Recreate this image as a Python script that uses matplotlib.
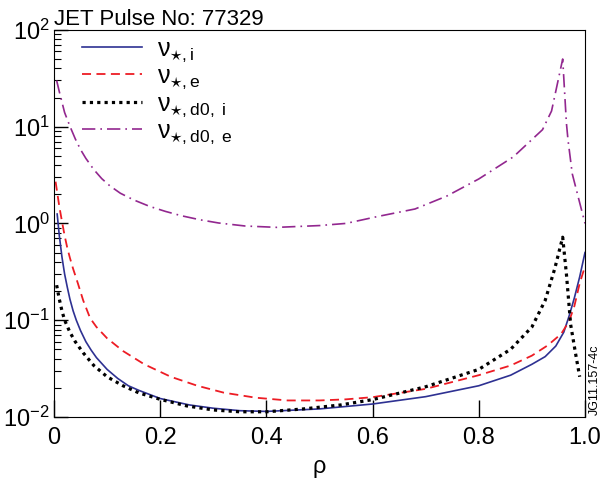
import matplotlib
matplotlib.use("Agg")
import matplotlib.pyplot as plt
import numpy as np

plt.rcParams['font.family'] = ['Liberation Sans', 'DejaVu Sans']
plt.rcParams['mathtext.fontset'] = 'custom'
plt.rcParams['mathtext.rm'] = 'Liberation Sans'
plt.rcParams['mathtext.it'] = 'Liberation Sans:italic'

# data
rho_i = [0.006, 0.01, 0.015, 0.02, 0.025, 0.03, 0.036, 0.042, 0.05, 0.06, 0.07, 0.08, 0.1, 0.12,
         0.14, 0.16, 0.2, 0.255, 0.3, 0.35, 0.4, 0.5, 0.6, 0.7, 0.8, 0.86, 0.9, 0.925, 0.945,
         0.96, 0.97, 0.98, 0.99, 1.0]
nu_i = [1.25, 0.75, 0.45, 0.3, 0.22, 0.165, 0.125, 0.1, 0.078, 0.06, 0.049, 0.041, 0.031, 0.025,
        0.021, 0.0188, 0.0155, 0.0133, 0.0123, 0.0116, 0.0114, 0.0121, 0.0136, 0.0162, 0.021, 0.027,
        0.035, 0.042, 0.054, 0.075, 0.11, 0.17, 0.28, 0.5]

rho_e = [0.003, 0.01, 0.015, 0.02, 0.025, 0.03, 0.036, 0.045, 0.055, 0.068, 0.08, 0.1, 0.13, 0.17,
         0.22, 0.27, 0.32, 0.38, 0.44, 0.5, 0.55, 0.6, 0.7, 0.8, 0.86, 0.9, 0.93, 0.955, 0.97,
         0.98, 0.99, 1.0]
nu_e = [2.7, 1.5, 1.05, 0.75, 0.56, 0.44, 0.34, 0.24, 0.16, 0.105, 0.085, 0.065, 0.048, 0.035,
        0.026, 0.021, 0.0178, 0.0158, 0.0148, 0.0148, 0.0152, 0.016, 0.0195, 0.027, 0.034, 0.043,
        0.055, 0.072, 0.097, 0.14, 0.24, 0.36]

rho_d0i = [0.005, 0.01, 0.015, 0.02, 0.03, 0.04, 0.055, 0.075, 0.1, 0.13, 0.16, 0.2, 0.25, 0.3,
           0.35, 0.4, 0.47, 0.54, 0.6, 0.7, 0.8, 0.86, 0.9, 0.925, 0.943, 0.958, 0.965, 0.973,
           0.982, 0.99]
nu_d0i = [0.23, 0.165, 0.125, 0.1, 0.075, 0.06, 0.046, 0.034, 0.026, 0.021, 0.0177, 0.0152, 0.013,
          0.0118, 0.0113, 0.0113, 0.0121, 0.0133, 0.0151, 0.0205, 0.031, 0.05, 0.085, 0.16, 0.34,
          0.72, 0.3, 0.09, 0.046, 0.026]

rho_d0e = [0.005, 0.01, 0.02, 0.03, 0.04, 0.05, 0.06, 0.075, 0.09, 0.105, 0.125, 0.15, 0.18, 0.21,
           0.24, 0.275, 0.31, 0.36, 0.42, 0.5, 0.55, 0.61, 0.68, 0.74, 0.8, 0.865, 0.92, 0.937,
           0.958, 0.965, 0.968, 0.976, 1.0]
nu_d0e = [30, 23, 14, 10.1, 7.5, 5.8, 4.7, 3.6, 2.9, 2.45, 2.05, 1.75, 1.5, 1.33, 1.2, 1.09, 1.01,
          0.94, 0.91, 0.95, 1.0, 1.18, 1.41, 1.92, 2.88, 4.87, 9.3, 14.5, 50, 10.9, 7.3, 3.26, 1.0]

labels = [r'$\mathrm{ν}_{\star,\mathrm{i}}$', r'$\mathrm{ν}_{\star,\mathrm{e}}$',
          r'$\mathrm{ν}_{\star,\mathrm{d0,\ i}}$', r'$\mathrm{ν}_{\star,\mathrm{d0,\ e}}$']

fig = plt.figure(figsize=(6.10, 4.82), dpi=100)
ax = fig.add_axes([0.0885, 0.135, 0.8705, 0.803])

ax.plot(rho_i, nu_i, color='#2E3192', lw=1.2, label=labels[0])
ax.plot(rho_e, nu_e, color='#ED1C24', lw=1.3, linestyle=(0, (5, 3)), label=labels[1])
ax.plot(rho_d0i, nu_d0i, color='black', lw=2.3, linestyle=(0, (1, 1.3)), label=labels[2])
ax.plot(rho_d0e, nu_d0e, color='#92278F', lw=1.2, linestyle=(0, (8, 3, 1, 3)), label=labels[3])

ax.set_yscale('log')
ax.set_xlim(0, 1)
ax.set_ylim(1e-2, 1e2)
ax.set_xticks([0, 0.2, 0.4, 0.6, 0.8, 1.0])
ax.set_xticklabels(['0', '0.2', '0.4', '0.6', '0.8', '1.0'])
ax.tick_params(axis='both', which='major', direction='in', labelsize=17, width=1)
ax.tick_params(axis='x', which='major', length=12, pad=7)
ax.tick_params(axis='y', which='major', length=10, pad=3)
ax.tick_params(axis='y', which='minor', direction='in', length=5, width=0.8)
ax.set_xlabel('ρ', fontsize=17, labelpad=5)

ax.set_title('JET Pulse No: 77329', fontsize=16, loc='left', pad=2)

ax.legend(loc='upper left', bbox_to_anchor=(0.01, 1.04), frameon=False, fontsize=18,
          handlelength=2.4, handletextpad=0.6, labelspacing=0.0)

fig.text(0.975, 0.14, 'JG11.157-4c', rotation=90, fontsize=9, ha='center', va='bottom')

fig.savefig('out.png', dpi=100)
